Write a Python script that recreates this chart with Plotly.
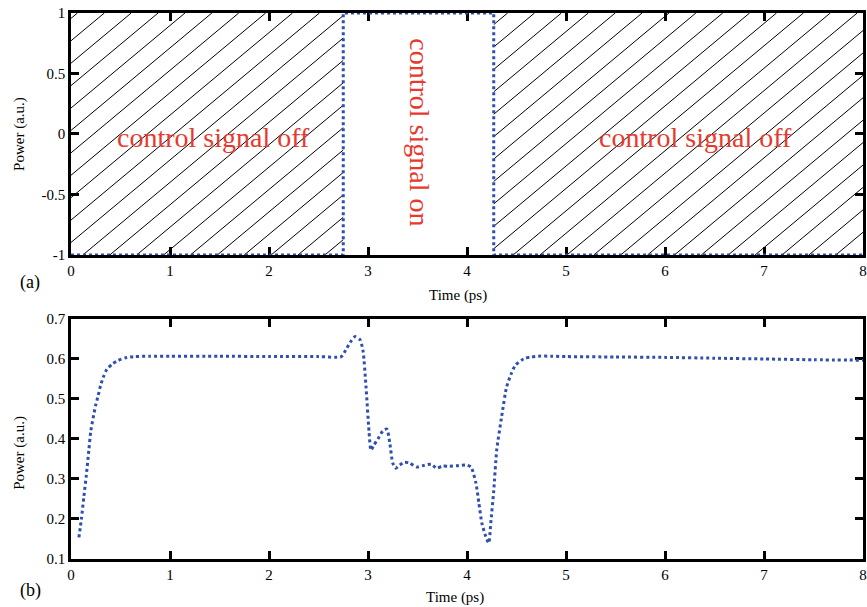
import numpy as np
import plotly.graph_objects as go

# ---------------- data ----------------
# panel (a): control signal (square pulse)
ctrl_x = [0, 2.75, 2.75, 4.27, 4.27, 8]
ctrl_y = [-1, -1, 1, 1, -1, -1]

# panel (b): output power vs time
time_ps = [0.08, 0.105, 0.13, 0.155, 0.18, 0.20, 0.223, 0.25, 0.273, 0.30, 0.33, 0.362,
           0.42, 0.473, 0.55, 0.64, 0.8, 1.0, 1.5, 2.0, 2.5, 2.73, 2.78, 2.83, 2.87,
           2.92, 2.95, 2.98, 3.01, 3.03, 3.06, 3.10, 3.15, 3.19, 3.22, 3.25, 3.28,
           3.32, 3.37, 3.42, 3.49, 3.55, 3.64, 3.69, 3.75, 3.82, 3.90, 3.99, 4.04,
           4.09, 4.12, 4.15, 4.19, 4.22, 4.24, 4.27, 4.30, 4.35, 4.40, 4.45, 4.49,
           4.55, 4.59, 4.65, 4.72, 4.85, 5.0, 5.5, 6.0, 6.5, 7.0, 7.5, 8.0]
power = [0.154, 0.20, 0.256, 0.31, 0.372, 0.42, 0.452, 0.485, 0.507, 0.535, 0.557, 0.574,
         0.588, 0.596, 0.603, 0.606, 0.607, 0.607, 0.607, 0.606, 0.606, 0.606, 0.625, 0.645, 0.656,
         0.648, 0.62, 0.53, 0.42, 0.372, 0.385, 0.40, 0.42, 0.425, 0.39, 0.34, 0.327,
         0.335, 0.342, 0.34, 0.33, 0.333, 0.337, 0.327, 0.332, 0.332, 0.333, 0.335, 0.33,
         0.29, 0.24, 0.19, 0.156, 0.14, 0.19, 0.27, 0.372, 0.456, 0.53, 0.565, 0.585,
         0.597, 0.602, 0.605, 0.607, 0.607, 0.606, 0.605, 0.604, 0.602, 0.600, 0.598, 0.597]

x_ticks = [0, 1, 2, 3, 4, 5, 6, 7, 8]
x_labels = ["0", "1", "2", "3", "4", "5", "6", "7", "8"]
ya_ticks = [-1, -0.5, 0, 0.5, 1]
ya_labels = ["-1", "-0.5", "0", "0.5", "1"]
yb_ticks = [0.1, 0.2, 0.3, 0.4, 0.5, 0.6, 0.7]
yb_labels = ["0.1", "0.2", "0.3", "0.4", "0.5", "0.6", "0.7"]

off_regions = [(0, 2.75), (4.27, 8)]
label_off = "control signal off"
label_on = "control signal on"

# ---------------- styling ----------------
BLUE = "#2f4fae"
RED = "#e63a2e"
SERIF = "Liberation Serif, Times New Roman, serif"

# hatch pattern (decorative), slope and spacing in data units
hatch_slope = 0.682
hatch_dx = 0.2716
hatch_phase = 0.12


def hatch_segments(xa, xb):
    xs, ys = [], []
    span = 2.0 / hatch_slope
    k0 = int(np.floor((xa - span - hatch_phase) / hatch_dx)) - 1
    k1 = int(np.ceil((xb - hatch_phase) / hatch_dx)) + 1
    for k in range(k0, k1 + 1):
        x0 = hatch_phase + k * hatch_dx
        s = max(xa, x0)
        e = min(xb, x0 + span)
        if s < e:
            xs += [s, e, None]
            ys += [-1 + hatch_slope * (s - x0), -1 + hatch_slope * (e - x0), None]
    return xs, ys


fig = go.Figure()

hx, hy = [], []
for a, b in off_regions:
    sx, sy = hatch_segments(a, b)
    hx += sx
    hy += sy
fig.add_trace(go.Scatter(x=hx, y=hy, mode="lines", line=dict(color="black", width=1),
                         xaxis="x", yaxis="y", hoverinfo="skip", showlegend=False))

fig.add_trace(go.Scatter(x=ctrl_x, y=ctrl_y, mode="lines",
                         line=dict(color=BLUE, width=3, dash="dot"),
                         xaxis="x", yaxis="y", cliponaxis=False, showlegend=False))

fig.add_trace(go.Scatter(x=time_ps, y=power, mode="lines",
                         line=dict(color=BLUE, width=3, dash="dot", shape="spline", smoothing=0.6),
                         xaxis="x2", yaxis="y2", cliponaxis=False, showlegend=False))

axis_common = dict(showline=True, linecolor="black", linewidth=2.5, mirror="ticks",
                   ticks="inside", ticklen=8, tickwidth=2.5, tickcolor="black",
                   showgrid=False, zeroline=False, layer="below traces",
                   tickfont=dict(family=SERIF, size=15, color="black"))

fig.update_layout(
    width=867, height=607,
    margin=dict(l=71, r=1, t=13, b=48),
    paper_bgcolor="white", plot_bgcolor="white",
    xaxis=dict(domain=[0, 1], anchor="y", range=[0, 8], tickvals=x_ticks, ticktext=x_labels, **axis_common),
    yaxis=dict(domain=[0.5568, 1], anchor="x", range=[-1, 1], tickvals=ya_ticks, ticktext=ya_labels, **axis_common),
    xaxis2=dict(domain=[0, 1], anchor="y2", range=[0, 8], tickvals=x_ticks, ticktext=x_labels, **axis_common),
    yaxis2=dict(domain=[0, 0.4396], anchor="x2", range=[0.1, 0.7], tickvals=yb_ticks, ticktext=yb_labels, **axis_common),
)

ann = []
# in-plot labels
ann.append(dict(x=1.444, y=-0.03, xref="x", yref="y", text=label_off, showarrow=False,
                font=dict(family=SERIF, size=28, color=RED)))
ann.append(dict(x=6.31, y=-0.03, xref="x", yref="y", text=label_off, showarrow=False,
                font=dict(family=SERIF, size=28, color=RED)))
ann.append(dict(x=3.52, y=0.01, xref="x", yref="y", text=label_on, showarrow=False, textangle=90,
                font=dict(family=SERIF, size=28, color=RED)))
# axis titles and panel labels
title_font = dict(family=SERIF, size=15, color="black")
ann.append(dict(x=0.489, y=0.4835, xref="paper", yref="paper", text="Time (ps)", showarrow=False,
                font=title_font, xanchor="center", yanchor="middle"))
ann.append(dict(x=0.485, y=-0.0714, xref="paper", yref="paper", text="Time (ps)", showarrow=False,
                font=title_font, xanchor="center", yanchor="middle"))
ann.append(dict(x=-0.066, y=0.778, xref="paper", yref="paper", text="Power (a.u.)", showarrow=False,
                textangle=-90, font=title_font, xanchor="center", yanchor="middle"))
ann.append(dict(x=-0.066, y=0.194, xref="paper", yref="paper", text="Power (a.u.)", showarrow=False,
                textangle=-90, font=title_font, xanchor="center", yanchor="middle"))
ann.append(dict(x=-0.0516, y=0.5055, xref="paper", yref="paper", text="(a)", showarrow=False,
                font=dict(family=SERIF, size=18, color="black"), xanchor="center", yanchor="middle"))
ann.append(dict(x=-0.0509, y=-0.0586, xref="paper", yref="paper", text="(b)", showarrow=False,
                font=dict(family=SERIF, size=18, color="black"), xanchor="center", yanchor="middle"))
fig.update_layout(annotations=ann)

fig.write_html("out.html")
